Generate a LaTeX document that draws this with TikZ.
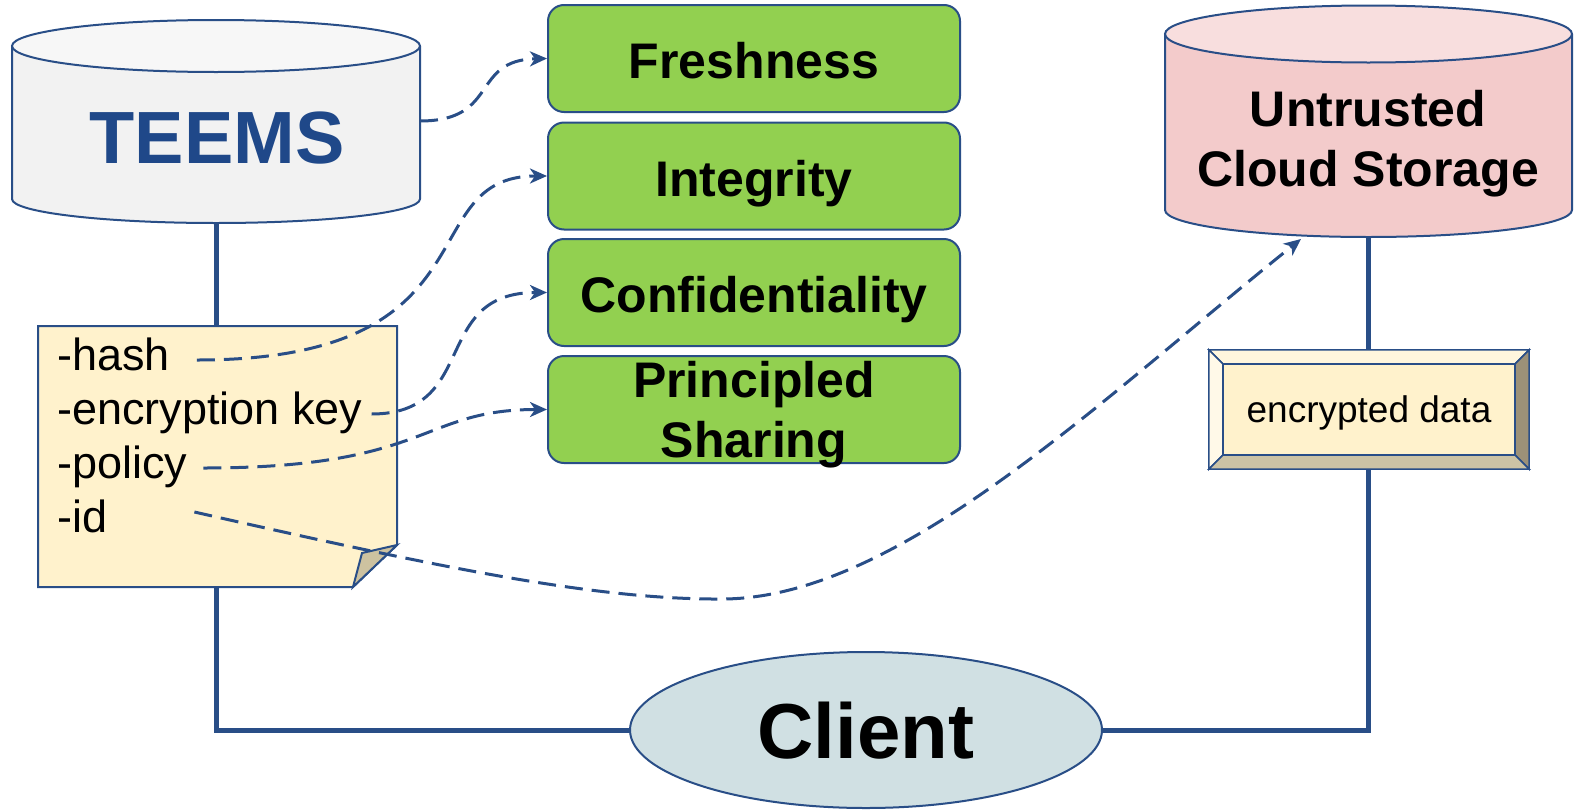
\documentclass[tikz,border=0pt]{standalone}
\usepackage{fontspec}
\setmainfont{Liberation Sans}
\usetikzlibrary{arrows.meta}
\usetikzlibrary{shapes.geometric}
\usetikzlibrary{backgrounds}

\definecolor{edgeblue}{RGB}{41,78,135}
\definecolor{teemsblue}{RGB}{31,72,137}
\definecolor{teemsbody}{RGB}{242,242,242}
\definecolor{teemstop}{RGB}{247,247,247}
\definecolor{cloudbody}{RGB}{243,203,203}
\definecolor{cloudtop}{RGB}{248,222,222}
\definecolor{goalgreen}{RGB}{146,208,80}
\definecolor{notepaper}{RGB}{255,242,204}
\definecolor{notefold}{RGB}{205,194,160}
\definecolor{bevtop}{RGB}{255,246,221}
\definecolor{bevleft}{RGB}{255,249,232}
\definecolor{bevright}{RGB}{156,145,120}
\definecolor{bevbottom}{RGB}{204,195,165}
\definecolor{clientblue}{RGB}{208,224,227}

\tikzset{
  goal/.style={draw=edgeblue, line width=2pt, fill=goalgreen, rounded corners=16pt,
    minimum width=412pt, minimum height=107pt, align=center,
    font=\fontsize{50}{60}\selectfont\bfseries, text height=40pt, text depth=0pt},
  field/.style={anchor=base west, inner sep=0pt, font=\fontsize{45}{54}\selectfont,
    text height=20pt, text depth=0pt},
  wire/.style={draw=edgeblue, line width=5pt},
  outline/.style={draw=edgeblue, line width=2pt},
  link/.style={draw=edgeblue, line width=3pt, dash pattern=on 18pt off 9pt,
    -{Stealth[length=17pt, width=15pt, inset=5pt]}},
}

\begin{document}
\begin{tikzpicture}
\useasboundingbox (0,0) rectangle (1574pt,-809pt);

% TEEMS store
\fill [teemsbody] (12pt,-46pt) -- (12pt,-199pt)
      arc [start angle=180, end angle=360, x radius=204pt, y radius=24pt] -- (420pt,-46pt) -- cycle;
\draw [outline] (12pt,-46pt) -- (12pt,-199pt)
      arc [start angle=180, end angle=360, x radius=204pt, y radius=24pt] -- (420pt,-46pt);
\filldraw [outline, fill=teemstop] (216pt,-46pt) ellipse [x radius=204pt, y radius=26pt];
\node (teems) at (217pt,-163pt) [anchor=base, text=teemsblue, font=\fontsize{74}{80}\selectfont\bfseries] {TEEMS};
\coordinate (teems side) at (420pt,-121pt);
\coordinate (teems base) at (216pt,-199pt);

% untrusted store
\fill [cloudbody] (1165pt,-34pt) -- (1165pt,-210pt)
      arc [start angle=180, end angle=360, x radius=203.5pt, y radius=27pt] -- (1572pt,-34pt) -- cycle;
\draw [outline] (1165pt,-34pt) -- (1165pt,-210pt)
      arc [start angle=180, end angle=360, x radius=203.5pt, y radius=27pt] -- (1572pt,-34pt);
\filldraw [outline, fill=cloudtop] (1368.5pt,-34pt) ellipse [x radius=203.5pt, y radius=28.5pt];
\node (cloud) at (1368pt,-138.5pt) [align=center, font=\fontsize{50}{60}\selectfont\bfseries,
      text height=96pt, text depth=0pt] {Untrusted\\Cloud Storage};
\coordinate (cloud base) at (1368pt,-210pt);
\coordinate (cloud rim) at (1301pt,-239pt);

% metadata note with folded corner
\filldraw [outline, fill=notepaper] (38pt,-326pt) -- (397pt,-326pt) -- (397pt,-545pt)
      -- (353pt,-587pt) -- (38pt,-587pt) -- cycle;
\filldraw [outline, fill=notefold] (353pt,-587pt) -- (362pt,-553pt) -- (397pt,-545pt) -- cycle;
\node (hash) at (57pt,-370pt) [field] {-hash};
\node (key) at (57pt,-424pt) [field] {-encryption key};
\node (policy) at (57pt,-478pt) [field] {-policy};
\node (id) at (57pt,-532pt) [field] {-id};

% guarantees
\node (fresh) at (754pt,-58.5pt) [goal] {Freshness};
\node (integ) at (754pt,-176pt) [goal] {Integrity};
\node (conf) at (754pt,-292.5pt) [goal] {Confidentiality};
\node (share) at (754pt,-409.5pt) [goal, text height=96pt, text depth=0pt] {Principled\\Sharing};

% encrypted blob, bevelled
\node (blob) at (1369pt,-409.5pt) [fill=notepaper, minimum width=292pt, minimum height=91pt,
      font=\fontsize{37}{44}\selectfont, text height=25pt, text depth=0pt] {encrypted data};
\filldraw [outline, line width=1.5pt, fill=bevtop] (blob.north west) -- ++(-14pt,14pt)
      -- ([shift={(14pt,14pt)}]blob.north east) -- (blob.north east) -- cycle;
\filldraw [outline, line width=1.5pt, fill=bevleft] (blob.north west) -- ++(-14pt,14pt)
      -- ([shift={(-14pt,-14pt)}]blob.south west) -- (blob.south west) -- cycle;
\filldraw [outline, line width=1.5pt, fill=bevright] (blob.north east) -- ++(14pt,14pt)
      -- ([shift={(14pt,-14pt)}]blob.south east) -- (blob.south east) -- cycle;
\filldraw [outline, line width=1.5pt, fill=bevbottom] (blob.south west) -- ++(-14pt,-14pt)
      -- ([shift={(14pt,-14pt)}]blob.south east) -- (blob.south east) -- cycle;
\draw [outline, line width=1.5pt] (blob.north west) rectangle (blob.south east);

\node (client) at (866pt,-730pt) [ellipse, outline, fill=clientblue, minimum width=472pt,
      minimum height=156pt, inner sep=0pt, font=\fontsize{78}{90}\selectfont\bfseries,
      text height=56pt, text depth=0pt] {Client};

\begin{scope}[on background layer]
  \draw [wire] (teems base) |- (client.west);
  \draw [wire] (cloud base) |- (client.east);
\end{scope}

% what each field protects
\draw [link] (teems side) .. controls (500pt,-121pt) and (470pt,-60pt) .. (fresh.west);
\draw [link] ([xshift=27pt]hash.east) .. controls (500pt,-360pt) and (410pt,-176pt) .. (integ.west);
\draw [link] ([xshift=9pt]key.east) .. controls (480pt,-414pt) and (430pt,-292.5pt) .. (conf.west);
\draw [link] ([xshift=16pt]policy.east) .. controls (430pt,-468pt) and (420pt,-409.5pt) .. (share.west);
\draw [link] ([xshift=87pt,yshift=10pt]id.east) .. controls (450pt,-570pt) and (600pt,-600pt) .. (724pt,-599pt)
      .. controls (900pt,-597pt) and (1100pt,-400pt) .. (cloud rim);
\end{tikzpicture}
\end{document}
